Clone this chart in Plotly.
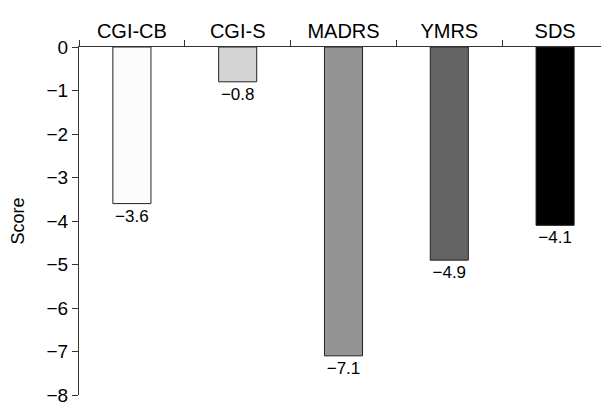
import plotly.graph_objects as go

categories = ["CGI-CB", "CGI-S", "MADRS", "YMRS", "SDS"]
values = [-3.6, -0.8, -7.1, -4.9, -4.1]
bar_colors = ["#fcfcfc", "#d4d4d4", "#949494", "#646464", "#000000"]
y_ticks = [0, -1, -2, -3, -4, -5, -6, -7, -8]

labels = [f"{v:.1f}".replace("-", "\u2212") for v in values]

fig = go.Figure(go.Bar(
    x=categories, y=values,
    marker=dict(color=bar_colors, line=dict(color="#222222", width=1)),
    width=0.36,
    text=labels, textposition="outside", cliponaxis=False,
    textfont=dict(size=17, color="#000000"),
))

# page body has an 8px margin, so the figure is sized/offset to compensate
fig.update_layout(
    width=601, height=397,
    margin=dict(l=71, r=1, t=39, b=10, autoexpand=False),
    plot_bgcolor="white", paper_bgcolor="white",
    font=dict(family="Liberation Sans, Arial, sans-serif", size=17, color="#000000"),
    showlegend=False,
    xaxis=dict(
        side="top", showline=True, linecolor="#333333", linewidth=1.3,
        ticks="outside", tickson="boundaries", ticklen=6, tickcolor="#333333",
        tickfont=dict(size=20), range=[-0.5, 4.5], showgrid=False, automargin=False,
    ),
    yaxis=dict(
        range=[-8, 0], tickvals=y_ticks,
        ticktext=[str(t).replace("-", "\u2212") for t in y_ticks],
        showline=True, linecolor="#333333", linewidth=1.3,
        ticks="outside", ticklen=6, tickcolor="#333333",
        showgrid=False, zeroline=False, tickfont=dict(size=19), automargin=False,
        ticklabeloverflow="allow",
        title=dict(text="Score", font=dict(size=18), standoff=17),
    ),
)

fig.write_html("out.html")
